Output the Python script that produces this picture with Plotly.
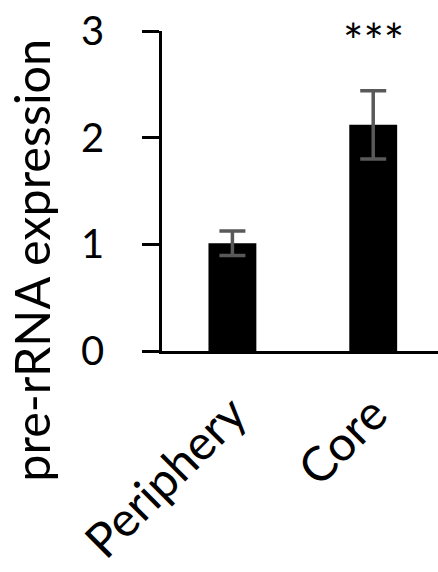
import plotly.graph_objects as go

categories = ["Periphery", "Core"]
values = [1.01, 2.12]
errors = [0.115, 0.32]
y_ticks = [0, 1, 2, 3]
significance = ["", "***"]
y_title = "pre-rRNA expression"

FONT = "Lato"

fig = go.Figure()
fig.add_trace(go.Bar(
    x=categories, y=values,
    marker=dict(color="black", line=dict(width=0)),
    width=0.34,
    error_y=dict(type="data", array=errors, visible=True,
                 color="#595959", thickness=3.5, width=13),
    showlegend=False,
))

for c, v, e, s in zip(categories, values, errors, significance):
    if s:
        fig.add_annotation(x=c, y=3, yref="y", xref="x", text=s, showarrow=False,
                           font=dict(family=FONT, size=48, color="black"),
                           yanchor="middle", yshift=-9)

fig.add_annotation(xref="paper", yref="paper", x=-0.475, y=0.285,
                   text=y_title, textangle=-90, showarrow=False,
                   font=dict(family=FONT, size=48.5, color="black"),
                   xanchor="center", yanchor="middle")

fig.update_layout(
    width=438, height=572,
    margin=dict(l=162, r=0, t=31, b=221, autoexpand=False),
    plot_bgcolor="white", paper_bgcolor="white",
    bargap=0.66,
    xaxis=dict(
        range=[-0.5, 1.46], showline=True, linecolor="black", linewidth=2.5,
        ticks="", tickangle=-45, showgrid=False, zeroline=False, automargin=False,
        tickfont=dict(family=FONT, size=48, color="black"),
        ticklabelstandoff=13,
    ),
    yaxis=dict(
        range=[0, 3], tickvals=y_ticks, showline=True, linecolor="black", linewidth=2.5,
        ticks="outside", ticklen=17, tickwidth=2.5, tickcolor="black",
        showgrid=False, zeroline=False, automargin=False,
        tickfont=dict(family=FONT, size=40, color="black"),
        ticklabelstandoff=30,
    ),
)

fig.write_html("out.html")
